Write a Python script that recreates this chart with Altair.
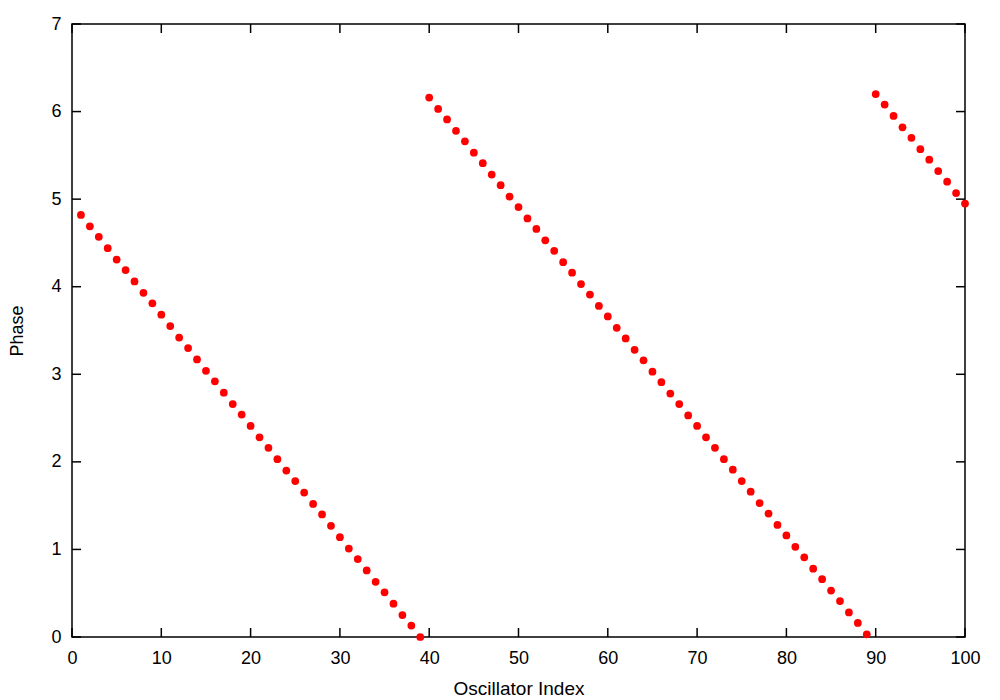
import altair as alt
import pandas as pd

# Oscillator index 1..100
index = list(range(1, 101))

# Phase values
phase = [
    4.82, 4.69, 4.57, 4.44, 4.31, 4.19, 4.06, 3.93, 3.81, 3.68,
    3.55, 3.42, 3.30, 3.17, 3.04, 2.92, 2.79, 2.66, 2.54, 2.41,
    2.28, 2.16, 2.03, 1.90, 1.78, 1.65, 1.52, 1.40, 1.27, 1.14,
    1.01, 0.89, 0.76, 0.63, 0.51, 0.38, 0.25, 0.13, 0.00,
    6.16, 6.03, 5.91, 5.78, 5.66, 5.53, 5.41, 5.28, 5.16, 5.03,
    4.91, 4.78, 4.66, 4.53, 4.41, 4.28, 4.16, 4.03, 3.91, 3.78,
    3.66, 3.53, 3.41, 3.28, 3.16, 3.03, 2.91, 2.78, 2.66, 2.53,
    2.41, 2.28, 2.16, 2.03, 1.91, 1.78, 1.66, 1.53, 1.41, 1.28,
    1.16, 1.03, 0.91, 0.78, 0.66, 0.53, 0.41, 0.28, 0.16, 0.03,
    6.20, 6.08, 5.95, 5.82, 5.70, 5.57, 5.45, 5.32, 5.20, 5.07,
    4.95,
]

x_ticks = [0, 10, 20, 30, 40, 50, 60, 70, 80, 90, 100]
y_ticks = [0, 1, 2, 3, 4, 5, 6, 7]

W, H = 893, 613
TICK = 9
FONT = "Liberation Sans"
FS = 18

df = pd.DataFrame({"index": index, "phase": phase})
xt = pd.DataFrame({"t": x_ticks})
yt = pd.DataFrame({"t": y_ticks})

xscale = alt.Scale(domain=[0, 100], nice=False, zero=False)
yscale = alt.Scale(domain=[0, 7], nice=False, zero=False)

points = alt.Chart(df).mark_circle(size=60, color="#ff0000", opacity=1).encode(
    x=alt.X("index:Q", scale=xscale,
            axis=alt.Axis(values=x_ticks, format="d", title="Oscillator Index",
                          ticks=False, tickSize=0,
                          domain=False, grid=False, labelFont=FONT, labelFontSize=FS,
                          labelColor="black", labelPadding=12, titleFont=FONT,
                          titleFontSize=19, titleFontWeight="normal", titleColor="black",
                          titleX=W / 2, titleY=57, titleBaseline="alphabetic",
                          titleAnchor="middle", labelFlush=False)),
    y=alt.Y("phase:Q", scale=yscale,
            axis=alt.Axis(values=y_ticks, format="d", title="Phase",
                          ticks=False, tickSize=0,
                          domain=False, grid=False, labelFont=FONT, labelFontSize=FS,
                          labelColor="black", labelPadding=11, titleFont=FONT,
                          titleFontSize=FS, titleFontWeight="normal", titleColor="black",
                          titleX=-50, titleY=H / 2, titleBaseline="alphabetic",
                          titleAngle=-90, titleAlign="center", labelFlush=False)),
)

rule_style = dict(color="black", strokeWidth=1.5)

left_ticks = alt.Chart(yt).mark_rule(**rule_style).encode(
    y=alt.Y("t:Q", scale=yscale), x=alt.value(0), x2=alt.value(TICK))
right_ticks = alt.Chart(yt).mark_rule(**rule_style).encode(
    y=alt.Y("t:Q", scale=yscale), x=alt.value(W - TICK), x2=alt.value(W))
bottom_ticks = alt.Chart(xt).mark_rule(**rule_style).encode(
    x=alt.X("t:Q", scale=xscale), y=alt.value(H - TICK), y2=alt.value(H))
top_ticks = alt.Chart(xt).mark_rule(**rule_style).encode(
    x=alt.X("t:Q", scale=xscale), y=alt.value(0), y2=alt.value(TICK))

chart = alt.layer(left_ticks, right_ticks, bottom_ticks, top_ticks, points).properties(
    width=W, height=H,
    autosize=alt.AutoSizeParams(type="none"),
    padding={"left": 64, "top": 16, "right": 27, "bottom": 63},
    background="white",
).configure_view(stroke="black", strokeWidth=1.5, fill="white")

chart.save("out.html", embed_options={"renderer": "svg", "actions": False})
